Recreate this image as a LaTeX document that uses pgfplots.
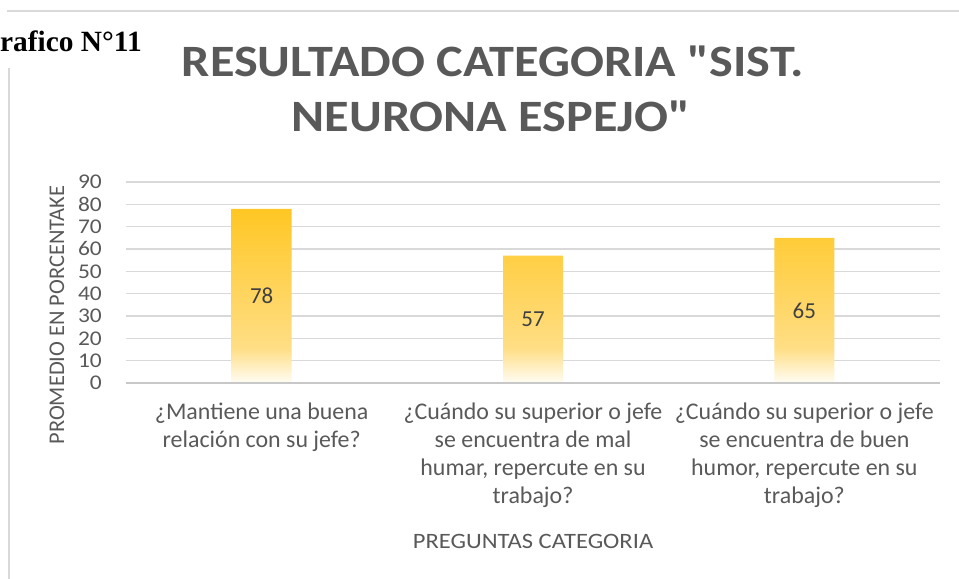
\documentclass[border=0pt]{standalone}
\usepackage{pgfplots}
\pgfplotsset{compat=1.18}
\usepackage{fontspec}
\setmainfont{Carlito}
\newfontfamily\widefont{Carlito}[FakeStretch=1.12]
\newfontfamily\serifb{Liberation Serif}

\definecolor{txtgrey}{HTML}{595959}
\definecolor{gridgrey}{HTML}{D9D9D9}
\definecolor{axisgrey}{HTML}{C8C8C8}
\definecolor{lblgrey}{HTML}{404040}

% Excel-like gold gradient, faded to white at the bottom
\pgfdeclareverticalshading{bargrad}{100bp}{%
  rgb(0bp)=(1,0.99,0.96); rgb(25bp)=(1,0.99,0.96);
  rgb(35bp)=(1,0.87,0.52); rgb(75bp)=(1,0.78,0.14); rgb(100bp)=(1,0.78,0.14)}

\begin{document}
\begin{tikzpicture}[x=1bp,y=1bp]
\path[use as bounding box] (0,0) rectangle (959,579);

% frame lines of the page
\draw[gridgrey, line width=2bp] (7,567.5) -- (959,567.5);
\draw[gridgrey, line width=2bp] (9,511) -- (9,0);

\node[anchor=base west, font=\serifb\bfseries\fontsize{29.5}{32}\selectfont, inner sep=0]
  at (0,527) {rafico N°11};

% title
\node[anchor=base, font=\widefont\bfseries\fontsize{45}{54}\selectfont, text=txtgrey, inner sep=0]
  at (493,502) {RESULTADO CATEGORIA \char"22SIST.};
\node[anchor=base, font=\widefont\bfseries\fontsize{45}{54}\selectfont, text=txtgrey, inner sep=0]
  at (491,447) {NEURONA ESPEJO\char"22};

\begin{axis}[
  at={(126bp,196bp)}, anchor=south west,
  scale only axis,
  width=814bp, height=201bp,
  xmin=-0.5, xmax=2.5,
  ymin=0, ymax=90,
  ytick={0,10,...,90},
  xtick=data,
  xticklabels={%
    {¿Mantiene una buena\\relación con su jefe?},
    {¿Cuándo su superior o jefe\\se encuentra de mal\\humar, repercute en su\\trabajo?},
    {¿Cuándo su superior o jefe\\se encuentra de buen\\humor, repercute en su\\trabajo?}},
  axis line style={draw=none},
  ymajorgrids,
  major grid style={gridgrey, line width=1.5bp},
  major tick length=0pt,
  /pgf/number format/assume math mode=true,
  yticklabel style={font=\widefont\fontsize{21}{24}\selectfont, text=txtgrey, inner sep=0, anchor=east, xshift=-24bp},
  xticklabel style={font=\fontsize{24}{28}\selectfont, text=txtgrey, align=center, anchor=north, inner sep=0, yshift=-20bp},
  xlabel={PREGUNTAS CATEGORIA},
  ylabel={PROMEDIO EN PORCENTAKE},
  every axis x label/.style={at={(axis description cs:0.5,-0.822)}, anchor=base,
    font=\widefont\fontsize{22}{24}\selectfont, text=txtgrey, inner sep=0},
  every axis y label/.style={at={(rel axis cs:0,0.338)}, xshift=-69bp, anchor=center, rotate=90,
    font=\fontsize{22.5}{24}\selectfont, text=txtgrey, inner sep=0},
  clip=false,
]
\addplot[ybar, bar width=60bp, draw=none, shading=bargrad,
  visualization depends on=y \as \rawy,
  nodes near coords,
  every node near coord/.append style={anchor=center, text=lblgrey,
    font=\fontsize{23}{26}\selectfont,
    shift={(axis direction cs:0,-\rawy/2)}},
  /pgf/number format/assume math mode=true]
  coordinates {(0,78) (1,57) (2,65)};
\draw[axisgrey, line width=1.5bp] (axis cs:-0.5,0) -- (axis cs:2.5,0);
\end{axis}
\end{tikzpicture}
\end{document}
